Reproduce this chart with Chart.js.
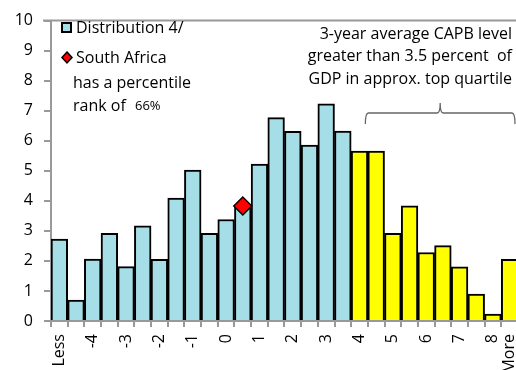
<!DOCTYPE html>
<html>
<head>
<meta charset="utf-8">
<script src="https://cdn.jsdelivr.net/npm/chart.js@4.4.1/dist/chart.umd.min.js"></script>
<style>
html,body{margin:0;padding:0;background:#fff;overflow:hidden;width:516px;height:370px;}
#wrap{position:absolute;left:0;top:0;width:536px;height:370px;}
</style>
</head>
<body>
<div id="wrap"><canvas id="c" width="536" height="370"></canvas></div>
<script>
// Data
const categories = ["Less","","-4","","-3","","-2","","-1","","0","","1","","2","","3","","4","","5","","6","","7","","8","More"];
const distribution = [2.73,0.70,2.06,2.92,1.81,3.17,2.05,4.09,5.02,2.92,3.38,3.83,5.22,6.77,6.31,5.86,7.23,6.32,5.66,5.66,2.92,3.83,2.28,2.51,1.80,0.90,0.23,2.05];
const topQuartileStart = 18; // index of first yellow bar
const southAfricaIndex = 11;
const southAfricaValue = 3.83;
const yTicks = [0,1,2,3,4,5,6,7,8,9,10];
const legendLabels = ["Distribution 4/","South Africa","has a percentile","rank of"];
const percentileRank = "66%";
const noteLines = ["3-year average CAPB level","greater than 3.5 percent  of","GDP in approx. top quartile"];

const BLUE = "#A6DEE8", YELLOW = "#FFFF00";
const FONT = "'Open Sans'";

const barColors = distribution.map((v,i)=> i>=topQuartileStart ? YELLOW : BLUE);
const saData = distribution.map((v,i)=> i===southAfricaIndex ? southAfricaValue : null);

const overlay = {
  id:'overlay',
  afterDraw(chart){
    const ctx = chart.ctx, ca = chart.chartArea, xs = chart.scales.x;
    ctx.save();
    // top border
    ctx.strokeStyle = "#999"; ctx.lineWidth = 2;
    ctx.beginPath(); ctx.moveTo(ca.left-8, ca.top); ctx.lineTo(chart.width, ca.top); ctx.stroke();
    // legend
    ctx.fillStyle = BLUE; ctx.strokeStyle = "#000"; ctx.lineWidth = 2;
    ctx.fillRect(62,23,9,9); ctx.strokeRect(62,23,9,9);
    ctx.beginPath(); ctx.moveTo(67,52); ctx.lineTo(72,57.5); ctx.lineTo(67,63); ctx.lineTo(62,57.5); ctx.closePath();
    ctx.fillStyle = "#F00"; ctx.fill(); ctx.lineWidth=1.5; ctx.stroke();
    ctx.fillStyle = "#000"; ctx.textBaseline = "middle"; ctx.textAlign = "left";
    ctx.font = "16px " + FONT;
    ctx.fillText(legendLabels[0], 76, 28);
    ctx.fillText(legendLabels[1], 76, 58);
    ctx.fillText(legendLabels[2], 73, 83);
    ctx.fillText(legendLabels[3], 73, 106);
    ctx.font = "13px " + FONT;
    ctx.fillText(percentileRank, 135, 106);
    // note text
    ctx.font = "16px " + FONT; ctx.textAlign = "right";
    ctx.fillText(noteLines[0], 512, 34);
    ctx.fillText(noteLines[1], 512, 56);
    ctx.fillText(noteLines[2], 512, 79);
    // brace
    const bw = xs.getPixelForValue(1) - xs.getPixelForValue(0);
    const x0 = xs.getPixelForValue(topQuartileStart) + bw*0.35;
    const x1 = 515;
    const xm = (x0 + x1)/2;
    const yb = 113, ye = 124, yt = 103;
    ctx.strokeStyle = "#666"; ctx.lineWidth = 1.3;
    ctx.beginPath();
    ctx.moveTo(x0, ye);
    ctx.quadraticCurveTo(x0, yb, x0+3, yb);
    ctx.lineTo(xm-3, yb);
    ctx.quadraticCurveTo(xm, yb, xm, yt);
    ctx.quadraticCurveTo(xm, yb, xm+3, yb);
    ctx.lineTo(x1-3, yb);
    ctx.quadraticCurveTo(x1, yb, x1, ye);
    ctx.stroke();
    ctx.restore();
  }
};

new Chart(document.getElementById('c'), {
  type: 'bar',
  data: {
    labels: categories,
    datasets: [
      { type:'line', label:'South Africa', data: saData, showLine:false,
        pointStyle:'rectRot', pointRadius:9, pointBackgroundColor:'#F00', pointBorderColor:'#000', pointBorderWidth:1.5, order:0 },
      { label:'Distribution 4/', data: distribution, backgroundColor: barColors, borderColor:'#000',
        borderWidth:2, barPercentage:1, categoryPercentage:1, order:1 }
    ]
  },
  options: {
    responsive:false, devicePixelRatio:1, animation:false,
    layout:{ padding:{ top:12, right:0, left:0, bottom:0 } },
    plugins:{ legend:{display:false}, tooltip:{enabled:false} },
    scales:{
      x:{ offset:true,
        grid:{ offset:true, drawOnChartArea:false, drawTicks:true, tickLength:6, color:'#999', lineWidth:2 },
        border:{ color:'#999', width:2 },
        ticks:{ autoSkip:false, minRotation:90, maxRotation:90, padding:7, color:'#000', font:{ family:FONT, size:16 } },
        afterFit(s){ s.height = 49; }
      },
      y:{ min:0, max:10,
        afterBuildTicks(s){ s.ticks = yTicks.map(v=>({value:v})); },
        grid:{ drawOnChartArea:false, drawTicks:true, tickLength:7, color:'#999', lineWidth:2 },
        border:{ color:'#999', width:2 },
        ticks:{ padding:11, color:'#000', font:{ family:FONT, size:16 } },
        afterFit(s){ s.width = 51; }
      }
    }
  },
  plugins:[overlay]
});
</script>
</body>
</html>
